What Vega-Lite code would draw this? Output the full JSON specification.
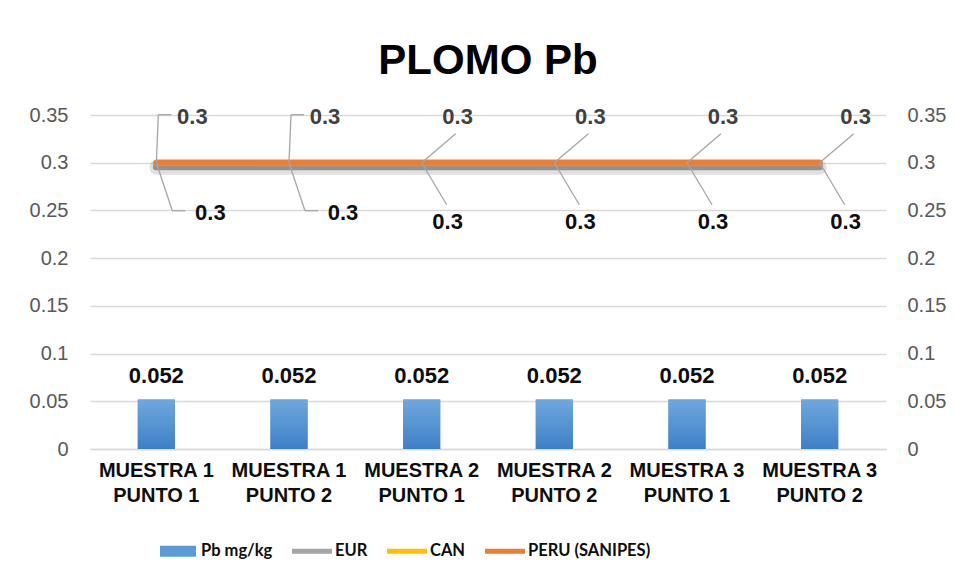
{
  "$schema": "https://vega.github.io/schema/vega-lite/v6.json",
  "width": 796,
  "height": 334,
  "autosize": {"type": "none"},
  "padding": {"left": 90, "top": 115, "right": 69, "bottom": 131},
  "background": "white",
  "title": {"text": "PLOMO Pb", "fontSize": 42, "font": "Liberation Sans", "fontWeight": "bold", "color": "#000000", "anchor": "middle", "offset": 22},
  "config": {"view": {"stroke": null}, "font": "Liberation Sans"},
  "data": {"values": [
    {"cat": "MUESTRA 1 PUNTO 1", "series": "Pb mg/kg", "value": 0.052},
    {"cat": "MUESTRA 1 PUNTO 2", "series": "Pb mg/kg", "value": 0.052},
    {"cat": "MUESTRA 2 PUNTO 1", "series": "Pb mg/kg", "value": 0.052},
    {"cat": "MUESTRA 2 PUNTO 2", "series": "Pb mg/kg", "value": 0.052},
    {"cat": "MUESTRA 3 PUNTO 1", "series": "Pb mg/kg", "value": 0.052},
    {"cat": "MUESTRA 3 PUNTO 2", "series": "Pb mg/kg", "value": 0.052},
    {"cat": "MUESTRA 1 PUNTO 1", "series": "EUR", "value": 0.3},
    {"cat": "MUESTRA 1 PUNTO 2", "series": "EUR", "value": 0.3},
    {"cat": "MUESTRA 2 PUNTO 1", "series": "EUR", "value": 0.3},
    {"cat": "MUESTRA 2 PUNTO 2", "series": "EUR", "value": 0.3},
    {"cat": "MUESTRA 3 PUNTO 1", "series": "EUR", "value": 0.3},
    {"cat": "MUESTRA 3 PUNTO 2", "series": "EUR", "value": 0.3},
    {"cat": "MUESTRA 1 PUNTO 1", "series": "CAN", "value": 0.3},
    {"cat": "MUESTRA 1 PUNTO 2", "series": "CAN", "value": 0.3},
    {"cat": "MUESTRA 2 PUNTO 1", "series": "CAN", "value": 0.3},
    {"cat": "MUESTRA 2 PUNTO 2", "series": "CAN", "value": 0.3},
    {"cat": "MUESTRA 3 PUNTO 1", "series": "CAN", "value": 0.3},
    {"cat": "MUESTRA 3 PUNTO 2", "series": "CAN", "value": 0.3},
    {"cat": "MUESTRA 1 PUNTO 1", "series": "PERU (SANIPES)", "value": 0.3},
    {"cat": "MUESTRA 1 PUNTO 2", "series": "PERU (SANIPES)", "value": 0.3},
    {"cat": "MUESTRA 2 PUNTO 1", "series": "PERU (SANIPES)", "value": 0.3},
    {"cat": "MUESTRA 2 PUNTO 2", "series": "PERU (SANIPES)", "value": 0.3},
    {"cat": "MUESTRA 3 PUNTO 1", "series": "PERU (SANIPES)", "value": 0.3},
    {"cat": "MUESTRA 3 PUNTO 2", "series": "PERU (SANIPES)", "value": 0.3}
  ]},
  "encoding": {
    "x": {
      "field": "cat", "type": "nominal", "sort": null,
      "scale": {"paddingInner": 0.72, "paddingOuter": 0.36},
      "axis": {
        "title": null, "labelAngle": 0, "domain": true, "domainColor": "#d9d9d9", "domainWidth": 1.5,
        "ticks": false, "labelPadding": 11, "labelFontSize": 20, "labelFontWeight": "bold",
        "labelColor": "#0d0d0d", "labelLineHeight": 25, "labelFont": "Liberation Sans",
        "labelExpr": "[slice(datum.label, 0, 9), slice(datum.label, 10)]"
      }
    }
  },
  "resolve": {"scale": {"y": "shared", "color": "shared"}, "axis": {"y": "independent"}},
  "layer": [
    {
      "transform": [{"filter": "datum.series === 'Pb mg/kg'"}],
      "mark": {"type": "bar"},
      "encoding": {
        "y": {"field": "value", "type": "quantitative", "scale": {"domain": [0, 0.35], "nice": false},
          "axis": {"orient": "left", "title": null, "values": [0, 0.05, 0.1, 0.15, 0.2, 0.25, 0.3, 0.35], "format": "~g",
            "grid": true, "gridColor": "#d9d9d9", "gridWidth": 1.5, "domain": false, "ticks": false,
            "labelFontSize": 20, "labelColor": "#595959", "labelPadding": 22, "labelFont": "Liberation Sans"}},
        "color": {"field": "series", "type": "nominal",
          "scale": {"domain": ["Pb mg/kg", "EUR", "CAN", "PERU (SANIPES)"], "range": ["#5b9bd5", "#a5a5a5", "#ffc000", "#ed7d31"]},
          "legend": {"orient": "none", "legendX": 68, "legendY": 416, "direction": "horizontal", "title": null,
            "labelFont": "Lato", "labelFontSize": 16.5, "labelFontWeight": "bold", "labelColor": "#0d0d0d",
            "symbolSize": 1600, "symbolType": "M-1,-0.25H1V0.25H-1Z", "columnPadding": 19, "labelOffset": 3,
            "symbolStrokeWidth": 0,
            "encode": {"symbols": {"update": {
              "shape": {"signal": "datum.value === 'Pb mg/kg' ? 'M-0.9,-0.28H0.9V0.28H-0.9Z' : 'M-1,-0.13H1V0.13H-1Z'"},
              "fill": {"signal": "scale('color', datum.value)"},
              "stroke": {"value": "transparent"}, "opacity": {"value": 1}}}}}}
      }
    },
    {
      "transform": [{"filter": "datum.series === 'Pb mg/kg'"}],
      "mark": {"type": "bar", "fill": {"gradient": "linear", "x1": 0, "y1": 0, "x2": 0, "y2": 1,
        "stops": [{"offset": 0, "color": "#6fa8de"}, {"offset": 1, "color": "#3e80c6"}]}},
      "encoding": {"y": {"field": "value", "type": "quantitative", "axis": null}}
    },
    {
      "transform": [{"filter": "datum.series === 'PERU (SANIPES)'"}],
      "mark": {"type": "line", "color": "#000000", "opacity": 0.12, "strokeWidth": 14, "yOffset": 5, "strokeCap": "round"},
      "encoding": {"y": {"field": "value", "type": "quantitative", "axis": null}}
    },
    {
      "transform": [{"filter": "datum.series === 'PERU (SANIPES)'"}],
      "mark": {"type": "line", "color": "#000000", "opacity": 0.35, "strokeWidth": 7, "yOffset": 4, "strokeCap": "round"},
      "encoding": {"y": {"field": "value", "type": "quantitative", "axis": null}}
    },
    {
      "transform": [{"filter": "datum.series === 'EUR'"}],
      "mark": {"type": "line", "strokeWidth": 6, "strokeCap": "round"},
      "encoding": {"y": {"field": "value", "type": "quantitative", "axis": null},
        "color": {"field": "series", "type": "nominal"}}
    },
    {
      "transform": [{"filter": "datum.series === 'CAN'"}],
      "mark": {"type": "line", "strokeWidth": 6, "strokeCap": "round"},
      "encoding": {"y": {"field": "value", "type": "quantitative", "axis": null},
        "color": {"field": "series", "type": "nominal"}}
    },
    {
      "transform": [{"filter": "datum.series === 'PERU (SANIPES)'"}],
      "mark": {"type": "line", "strokeWidth": 6, "strokeCap": "round"},
      "encoding": {"y": {"field": "value", "type": "quantitative",
          "axis": {"orient": "right", "title": null, "values": [0, 0.05, 0.1, 0.15, 0.2, 0.25, 0.3, 0.35], "format": "~g",
            "grid": false, "domain": false, "ticks": false,
            "labelFontSize": 20, "labelColor": "#595959", "labelPadding": 21, "labelFont": "Liberation Sans"}},
        "color": {"field": "series", "type": "nominal"}}
    },
    {
      "transform": [{"filter": "datum.series === 'PERU (SANIPES)' && indexof(['MUESTRA 1 PUNTO 1','MUESTRA 1 PUNTO 2'], datum.cat) >= 0"}],
      "mark": {"type": "rule", "color": "#a6a6a6", "strokeWidth": 1.3, "x2Offset": 2, "y2Offset": -48},
      "encoding": {"x2": {"field": "cat"}, "y": {"field": "value", "type": "quantitative", "axis": null}, "y2": {"field": "value"}}
    },
    {
      "transform": [{"filter": "datum.series === 'PERU (SANIPES)' && indexof(['MUESTRA 1 PUNTO 1','MUESTRA 1 PUNTO 2'], datum.cat) >= 0"}],
      "mark": {"type": "rule", "color": "#a6a6a6", "strokeWidth": 1.3, "xOffset": 2, "x2Offset": 15, "yOffset": -48, "y2Offset": -48},
      "encoding": {"x2": {"field": "cat"}, "y": {"field": "value", "type": "quantitative", "axis": null}, "y2": {"field": "value"}}
    },
    {
      "transform": [{"filter": "datum.series === 'CAN' && indexof(['MUESTRA 1 PUNTO 1','MUESTRA 1 PUNTO 2'], datum.cat) >= 0"}],
      "mark": {"type": "rule", "color": "#a6a6a6", "strokeWidth": 1.3, "x2Offset": 16, "y2Offset": 48},
      "encoding": {"x2": {"field": "cat"}, "y": {"field": "value", "type": "quantitative", "axis": null}, "y2": {"field": "value"}}
    },
    {
      "transform": [{"filter": "datum.series === 'CAN' && indexof(['MUESTRA 1 PUNTO 1','MUESTRA 1 PUNTO 2'], datum.cat) >= 0"}],
      "mark": {"type": "rule", "color": "#a6a6a6", "strokeWidth": 1.3, "xOffset": 16, "x2Offset": 29, "yOffset": 48, "y2Offset": 48},
      "encoding": {"x2": {"field": "cat"}, "y": {"field": "value", "type": "quantitative", "axis": null}, "y2": {"field": "value"}}
    },
    {
      "transform": [{"filter": "datum.series === 'PERU (SANIPES)' && indexof(['MUESTRA 1 PUNTO 1','MUESTRA 1 PUNTO 2'], datum.cat) < 0"}],
      "mark": {"type": "rule", "color": "#a6a6a6", "strokeWidth": 1.3, "x2Offset": 34, "y2Offset": -29},
      "encoding": {"x2": {"field": "cat"}, "y": {"field": "value", "type": "quantitative", "axis": null}, "y2": {"field": "value"}}
    },
    {
      "transform": [{"filter": "datum.series === 'CAN' && indexof(['MUESTRA 1 PUNTO 1','MUESTRA 1 PUNTO 2'], datum.cat) < 0"}],
      "mark": {"type": "rule", "color": "#a6a6a6", "strokeWidth": 1.3, "x2Offset": 25, "y2Offset": 42},
      "encoding": {"x2": {"field": "cat"}, "y": {"field": "value", "type": "quantitative", "axis": null}, "y2": {"field": "value"}}
    },
    {
      "transform": [{"filter": "datum.series === 'PERU (SANIPES)'"}],
      "mark": {"type": "text", "fontSize": 22, "fontWeight": "bold", "color": "#404040", "dx": 36, "dy": -46, "baseline": "middle", "font": "Liberation Sans"},
      "encoding": {"y": {"field": "value", "type": "quantitative", "axis": null}, "text": {"field": "value", "type": "quantitative", "format": "~g"}}
    },
    {
      "transform": [{"filter": "datum.series === 'CAN' && indexof(['MUESTRA 1 PUNTO 1','MUESTRA 1 PUNTO 2'], datum.cat) >= 0"}],
      "mark": {"type": "text", "fontSize": 22, "fontWeight": "bold", "color": "#0d0d0d", "dx": 54, "dy": 50, "baseline": "middle", "font": "Liberation Sans"},
      "encoding": {"y": {"field": "value", "type": "quantitative", "axis": null}, "text": {"field": "value", "type": "quantitative", "format": "~g"}}
    },
    {
      "transform": [{"filter": "datum.series === 'CAN' && indexof(['MUESTRA 1 PUNTO 1','MUESTRA 1 PUNTO 2'], datum.cat) < 0"}],
      "mark": {"type": "text", "fontSize": 22, "fontWeight": "bold", "color": "#0d0d0d", "dx": 26, "dy": 59, "baseline": "middle", "font": "Liberation Sans"},
      "encoding": {"y": {"field": "value", "type": "quantitative", "axis": null}, "text": {"field": "value", "type": "quantitative", "format": "~g"}}
    },
    {
      "transform": [{"filter": "datum.series === 'Pb mg/kg'"}],
      "mark": {"type": "text", "fontSize": 22, "fontWeight": "bold", "color": "#0d0d0d", "dy": -23, "baseline": "middle", "font": "Liberation Sans"},
      "encoding": {"y": {"field": "value", "type": "quantitative", "axis": null}, "text": {"field": "value", "type": "quantitative", "format": "~g"}}
    }
  ]
}
